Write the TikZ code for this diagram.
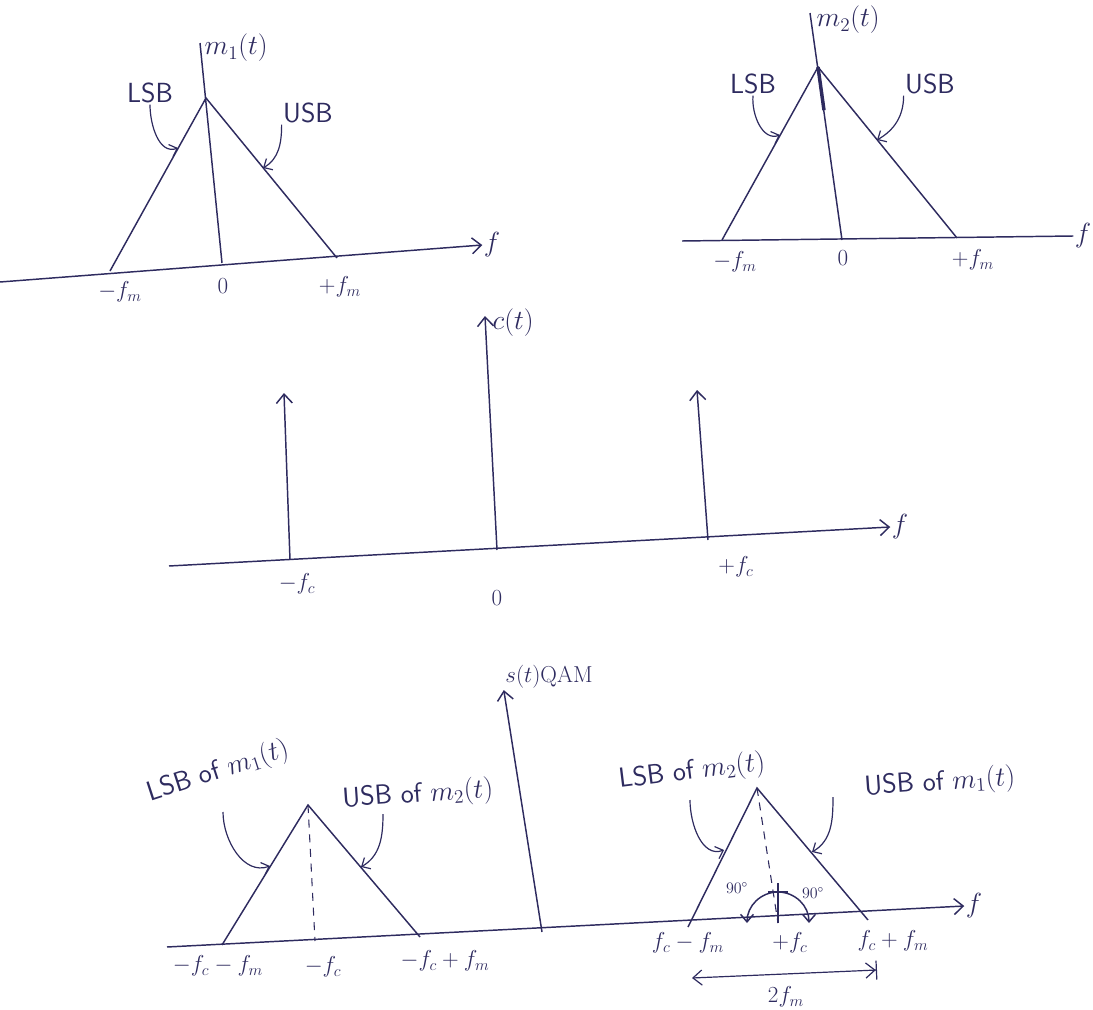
\documentclass[tikz,border=0pt]{standalone}
\usepackage{amsmath}
\usepackage{xcolor}
\usetikzlibrary{arrows.meta,positioning,calc}
\definecolor{ink}{HTML}{2E2B5F}
\tikzset{
  font=\sffamily,
  pen/.style={draw=ink, line width=1.1pt},
  axis/.style={pen, -{Straight Barb[length=2.4mm,width=4.2mm]}},
  spike/.style={pen, -{Straight Barb[length=2.4mm,width=4.2mm]}},
  pointer/.style={draw=ink, line width=0.9pt, -{Straight Barb[length=1.8mm,width=3.4mm]}},
  guide/.style={draw=ink, line width=0.8pt, dash pattern=on 6pt off 5pt},
  lbl/.style={text=ink, font=\sffamily\huge, inner sep=1pt},
  val/.style={text=ink, font=\LARGE, inner sep=1pt},
  small/.style={text=ink, font=\large, inner sep=1pt}
}
\begin{document}
\begin{tikzpicture}[x=0.75pt,y=0.75pt]
\useasboundingbox (0,0) rectangle (1093,-1010);

% Spectrum of m1(t)
\node[lbl] (f1) at (492,-245) {$f$};
\coordinate (a1) at (0,-282);
\draw[axis] (a1) -- (f1.west);
\coordinate (m1l) at (110,-271);
\coordinate (m1p) at (206,-98);
\coordinate (m1r) at (337,-258);
\draw[pen] (m1l) -- (m1p) -- (m1r);
\coordinate (m1top) at (200,-43);
\coordinate (m1o) at (222,-263);
\draw[pen] (m1top) -- (m1o);
\node[lbl, anchor=west] (m1lab) at (203,-48) {$m_1(t)$};
\node[lbl] (lsb1) at (150,-93) {LSB};
\coordinate (lsb1p) at (178,-148);
\draw[pointer] (lsb1.south) to[out=-90,in=200] (lsb1p);
\node[lbl] (usb1) at (308,-113) {USB};
\coordinate (usb1p) at (263,-168);
\draw[pointer] (usb1.south west) to[out=-90,in=30] (usb1p);
\node[val] (m1fl) at (120,-292) {$-f_m$};
\node[val] (m1zero) at (223,-286) {$0$};
\node[val] (m1fr) at (340,-287) {$+f_m$};

% Spectrum of m2(t)
\node[lbl] (f2) at (1083,-236) {$f$};
\coordinate (a2) at (682,-241);
\draw[pen] (a2) -- (f2.west);
\coordinate (m2l) at (722,-240);
\coordinate (m2p) at (818,-67);
\coordinate (m2r) at (957,-238);
\draw[pen] (m2l) -- (m2p) -- (m2r);
\coordinate (m2top) at (810,-13);
\coordinate (m2o) at (842,-240);
\draw[pen] (m2top) -- (m2o);
\draw[draw=ink, line width=2.6pt] (m2p) -- ($(m2p)!0.25!(m2o)$);
\node[lbl, anchor=west] (m2lab) at (815,-20) {$m_2(t)$};
\node[lbl] (lsb2) at (753,-84) {LSB};
\coordinate (lsb2p) at (780,-135);
\draw[pointer] (lsb2.south) to[out=-95,in=200] (lsb2p);
\node[lbl] (usb2) at (930,-84) {USB};
\coordinate (usb2p) at (877,-140);
\draw[pointer] (usb2.south west) to[out=-90,in=30] (usb2p);
\node[val] (m2fl) at (735,-262) {$-f_m$};
\node[val] (m2zero) at (843,-258) {$0$};
\node[val] (m2fr) at (973,-260) {$+f_m$};

% Carrier c(t)
\node[lbl] (f3) at (900,-527) {$f$};
\coordinate (a3) at (169,-566);
\draw[axis] (a3) -- (f3.west);
\coordinate (c1b) at (290,-560);
\coordinate (c1t) at (284,-393);
\coordinate (c0b) at (497,-550);
\coordinate (c0t) at (485,-316);
\coordinate (c2b) at (708,-540);
\coordinate (c2t) at (697,-390);
\draw[spike] (c1b) -- (c1t);
\draw[spike] (c0b) -- (c0t);
\draw[spike] (c2b) -- (c2t);
\node[lbl, anchor=west] (clab) at (491,-323) {$c(t)$};
\node[val] (cfl) at (297,-584) {$-f_c$};
\node[val] (czero) at (497,-598) {$0$};
\node[val] (cfr) at (736,-567) {$+f_c$};

% QAM spectrum s(t)
\node[lbl] (f4) at (974,-906) {$f$};
\coordinate (a4) at (167,-947);
\draw[axis] (a4) -- (f4.west);
\coordinate (sl) at (222,-945);
\coordinate (sp) at (308,-805);
\coordinate (sr) at (420,-937);
\draw[pen] (sl) -- (sp) -- (sr);
\coordinate (sd) at (315,-941);
\draw[guide] (sp) -- (sd);
\node[val] (sfl) at (218,-966) {$-f_c-f_m$};
\node[val] (sfc) at (323,-967) {$-f_c$};
\node[val] (sfr) at (445,-961) {$-f_c+f_m$};
\node[lbl, rotate=18] (lsb3) at (218,-772) {LSB of $m_1(t)$};
\coordinate (lsb3p) at (270,-866);
\draw[pointer] (223,-812) to[out=-90,in=200] (lsb3p);
\node[lbl, rotate=4] (usb3) at (418,-795) {USB of $m_2(t)$};
\coordinate (usb3p) at (361,-867);
\draw[pointer] (383,-814) to[out=-90,in=30] (usb3p);
\coordinate (sb) at (542,-932);
\node[val] (slab) at (549,-677) {$s(t)$QAM};
\draw[spike] (sb) -- (slab.south west);

\coordinate (tl) at (688,-927);
\coordinate (tp) at (757,-788);
\coordinate (tr) at (868,-920);
\draw[pen] (tl) -- (tp) -- (tr);
\coordinate (tc) at (778,-923);
\draw[guide] (tp) -- (tc);
\draw[pen] (tc) -- ++(0,40);
\draw[pen] ($(tc)+(-10,31)$) -- ++(20,0);
\draw[draw=ink, line width=1.1pt, {Straight Barb[length=2mm,width=3.4mm]}-{Straight Barb[length=2mm,width=3.4mm]}]
  ($(tc)+(-31,0)$) arc[start angle=180, end angle=0, radius=31];
\node[small] (deg1) at (737,-888) {$90^\circ$};
\node[small] (deg2) at (813,-893) {$90^\circ$};
\node[val] (tfl) at (688,-943) {$f_c-f_m$};
\node[val] (tfc) at (790,-943) {$+f_c$};
\node[val] (tfr) at (893,-941) {$f_c+f_m$};
\node[lbl, rotate=7] (lsb4) at (692,-772) {LSB of $m_2(t)$};
\coordinate (lsb4p) at (724,-850);
\draw[pointer] (690,-800) to[out=-90,in=200] (lsb4p);
\node[lbl, rotate=4] (usb4) at (940,-783) {USB of $m_1(t)$};
\coordinate (usb4p) at (812,-852);
\draw[pointer] (833,-797) to[out=-90,in=30] (usb4p);

% Bandwidth
\coordinate (bwl) at (692,-978);
\coordinate (bwr) at (877,-970);
\draw[draw=ink, line width=0.9pt, {Straight Barb[length=2.4mm,width=4mm]}-{Straight Barb[length=2.4mm,width=4mm]Bar[width=5mm]}] (bwl) -- (bwr);
\node[val] (bw) at (786,-997) {$2f_m$};

\end{tikzpicture}
\end{document}
